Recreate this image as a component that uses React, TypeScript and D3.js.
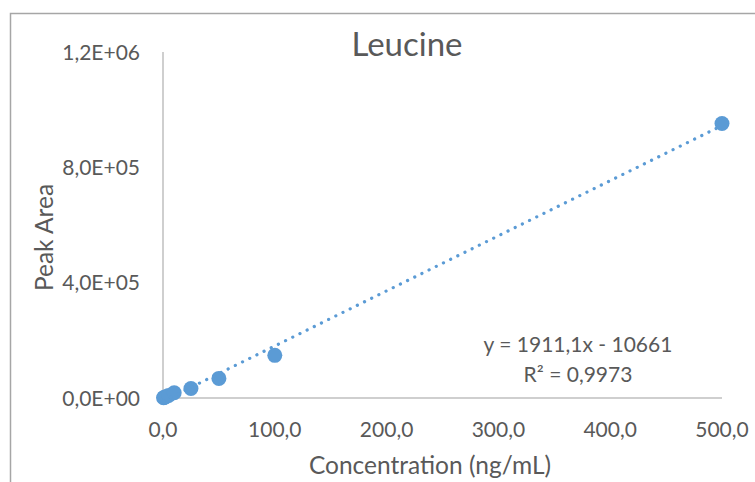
import React from 'react'
import * as d3 from 'd3'

const width = 755
const height = 482
const color = '#5B9BD5'
const textColor = '#595959'
const font = 'Lato, "Open Sans", sans-serif'

const concentrations = [0.5, 1, 2.5, 5, 10, 25, 50, 100, 500]
const peakAreas = [900, 1800, 4500, 9000, 18000, 33000, 68000, 148000, 952000]
const xTicks = [0, 100, 200, 300, 400, 500]
const yTicks = [0, 400000, 800000, 1200000]
const slope = 1911.1
const intercept = -10661
const equationLines = ['y = 1911,1x - 10661', 'R² = 0,9973']

const plot = { left: 163, right: 722, top: 52, bottom: 398 }

const fmtX = (v: number) => v.toFixed(1).replace('.', ',')
const fmtY = (v: number) => {
  const [m, e] = v.toExponential(1).split('e')
  const exp = parseInt(e, 10)
  return `${m.replace('.', ',')}E${exp < 0 ? '-' : '+'}${String(Math.abs(exp)).padStart(2, '0')}`
}

export default function App() {
  const x = d3.scaleLinear().domain([0, 500]).range([plot.left, plot.right])
  const y = d3.scaleLinear().domain([0, 1200000]).range([plot.bottom, plot.top])

  const xMin = d3.min(concentrations) as number
  const xMax = d3.max(concentrations) as number
  const trend = d3.line<number>()
    .x(d => x(d))
    .y(d => y(slope * d + intercept))([xMin, xMax])

  return (
    <svg width={width} height={height}
      style={{ position: 'fixed', left: 0, top: 0, display: 'block', background: '#fff' }}>
      {/* chart frame, cropped on right/bottom */}
      <path d={`M10.5,${height + 2} V13.5 H${width + 2}`} fill='none' stroke='#a6a6a6' strokeWidth={1.5} />

      <text x={407} y={56} textAnchor='middle' fontFamily={font} fontSize={33} fill={textColor}>Leucine</text>

      {/* axes */}
      <line x1={plot.left} x2={plot.left} y1={plot.top} y2={plot.bottom} stroke='#bfbfbf' strokeWidth={1.5} />
      <line x1={plot.left} x2={plot.right} y1={plot.bottom} y2={plot.bottom} stroke='#bfbfbf' strokeWidth={1.5} />

      {yTicks.map(t => (
        <text key={t} x={140} y={y(t)} dy='0.36em' textAnchor='end'
          fontFamily={font} fontSize={21} fill={textColor}>{fmtY(t)}</text>
      ))}
      {xTicks.map(t => (
        <text key={t} x={x(t)} y={437} textAnchor='middle'
          fontFamily={font} fontSize={21} fill={textColor}>{fmtX(t)}</text>
      ))}

      <text x={430} y={474} textAnchor='middle' fontFamily={font} fontSize={24.5} fill={textColor}>
        Concentration (ng/mL)
      </text>
      <text transform={`translate(53, 237.5) rotate(-90)`} textAnchor='middle'
        fontFamily={font} fontSize={24.5} fill={textColor}>Peak Area</text>

      {/* markers */}
      {concentrations.map((c, i) => (
        <circle key={i} cx={x(c)} cy={y(peakAreas[i])} r={7.5} fill={color} />
      ))}

      {/* linear trendline */}
      <path d={trend || ''} fill='none' stroke={color} strokeWidth={3.2}
        strokeLinecap='round' strokeDasharray='0.1 7.9' />

      {equationLines.map((l, i) => (
        <text key={i} x={578} y={352 + i * 30} textAnchor='middle'
          fontFamily={font} fontSize={21} fill={textColor}>{l}</text>
      ))}
    </svg>
  )
}
